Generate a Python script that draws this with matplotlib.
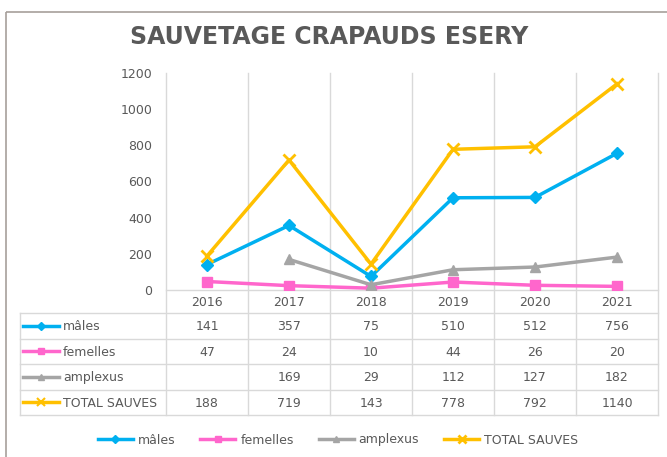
import numpy as np
import matplotlib
matplotlib.use("Agg")
import matplotlib.pyplot as plt
from matplotlib.patches import Rectangle

years = ["2016", "2017", "2018", "2019", "2020", "2021"]
males = [141, 357, 75, 510, 512, 756]
femelles = [47, 24, 10, 44, 26, 20]
amplexus = [np.nan, 169, 29, 112, 127, 182]
total = [188, 719, 143, 778, 792, 1140]
series_names = ["mâles", "femelles", "amplexus", "TOTAL SAUVES"]
yticks = [0, 200, 400, 600, 800, 1000, 1200]

colors = ["#00B0F0", "#FF66CC", "#A5A5A5", "#FFC000"]
markers = ["D", "s", "^", "x"]
msizes = [6, 7, 7, 9]
txt = "#595959"
grid = "#D9D9D9"

W, H = 667, 457
fig = plt.figure(figsize=(W / 100, H / 100), dpi=100)

# overlay axes in pixel coordinates
ov = fig.add_axes([0, 0, 1, 1])
ov.set_xlim(0, W)
ov.set_ylim(H, 0)
ov.axis("off")

# outer frame
ov.add_patch(Rectangle((6, 12), 700, 500, fill=False, ec="#A7A09B", lw=1.2))

# plot area geometry (pixels)
x0, x1 = 166, 658
y0, y1 = 290, 73
ax = fig.add_axes([x0 / W, (H - y0) / H, (x1 - x0) / W, (y0 - y1) / H])
ax.set_xlim(-0.5, len(years) - 0.5)
ax.set_ylim(0, 1200)
ax.patch.set_alpha(0)
for s in ax.spines.values():
    s.set_visible(False)
ax.set_xticks([])
ax.set_yticks(yticks)
ax.tick_params(axis="y", length=0, pad=10, labelsize=9, labelcolor=txt)

data = [males, femelles, amplexus, total]
xs = np.arange(len(years))
handles = []
for vals, c, m, ms, name in zip(data, colors, markers, msizes, series_names):
    mew = 2 if m == "x" else 1
    h, = ax.plot(xs, vals, color=c, lw=2.5, marker=m, ms=ms, mew=mew,
                 mec=c, mfc=c, label=name, zorder=3)
    handles.append(h)

# table geometry
colw = (x1 - x0) / len(years)
tab_left = 20
head_top, head_bot = y0, 313
row_h = 25.5
rows_bot = head_bot + row_h * len(series_names)

# vertical lines (category boundaries) from plot top to table bottom
for i in range(len(years) + 1):
    xx = x0 + i * colw
    ov.plot([xx, xx], [y1, rows_bot], color=grid, lw=1, zorder=0)
# axis line at 0
ov.plot([x0, x1], [y0, y0], color=grid, lw=1, zorder=0)
# table horizontal lines
for r in range(len(series_names) + 1):
    yy = head_bot + r * row_h
    ov.plot([tab_left, x1], [yy, yy], color=grid, lw=1, zorder=0)
ov.plot([tab_left, tab_left], [head_bot, rows_bot], color=grid, lw=1, zorder=0)

# header
for i, yr in enumerate(years):
    ov.text(x0 + (i + 0.5) * colw, (head_top + head_bot) / 2 + 1, yr,
            ha="center", va="center", fontsize=9, color=txt)

# rows
for r, (vals, c, m, ms, name) in enumerate(zip(data, colors, markers, msizes, series_names)):
    yc = head_bot + (r + 0.5) * row_h
    mew = 1.5 if m == "x" else 1
    ov.plot([23, 59], [yc, yc], color=c, lw=2.5, zorder=3)
    ov.plot([41], [yc], marker=m, color=c, ms=ms * 0.7, mew=mew, zorder=3)
    ov.text(63, yc + 1, name, ha="left", va="center", fontsize=9, color=txt)
    for i, v in enumerate(vals):
        if not np.isnan(v):
            ov.text(x0 + (i + 0.5) * colw, yc + 1, f"{int(v)}",
                    ha="center", va="center", fontsize=9, color=txt)

# title
fig.text(329 / W, (H - 37) / H, "SAUVETAGE CRAPAUDS ESERY", ha="center",
         va="center", fontsize=17, fontweight="bold", color=txt)

# bottom legend
fig.legend(handles=handles, loc="center", bbox_to_anchor=(338 / W, (H - 440) / H),
           ncol=4, frameon=False, fontsize=9, labelcolor=txt, handlelength=2.8,
           columnspacing=2.0, handletextpad=0.4, markerscale=0.7)

fig.savefig("out.png", dpi=100, facecolor="white")
